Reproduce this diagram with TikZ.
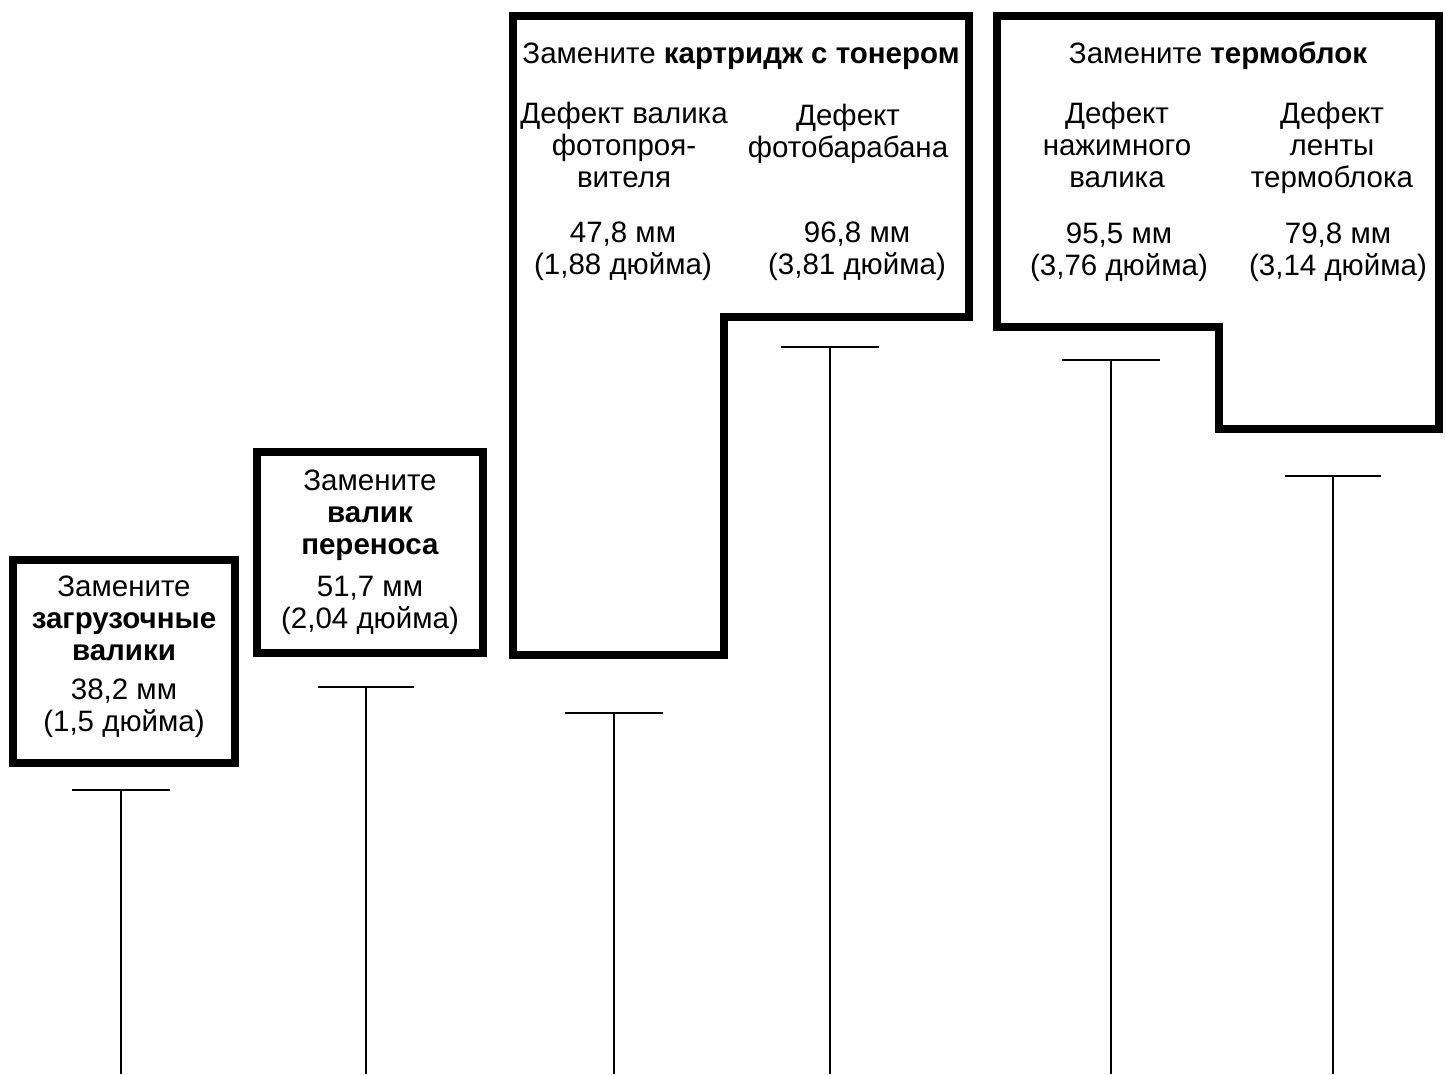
\documentclass[tikz,border=0pt]{standalone}
\usepackage{fontspec}
\setmainfont{Liberation Sans}
\usetikzlibrary{positioning}

\begin{document}
\begin{tikzpicture}[
    x=1pt, y=-1pt,
    every node/.style={font=\fontsize{29.5}{32}\selectfont, inner sep=0pt},
    repbox/.style={rectangle, draw=black, line width=8.5pt, align=center},
    outline/.style={draw=black, line width=8.5pt, line join=miter},
    txt/.style={align=center, anchor=base},
    tline/.style={draw=black, line width=2pt}
]
\useasboundingbox (0,0) rectangle (1445,1074);

% single boxes
\node[repbox, minimum width=222, minimum height=203] (rollers) at (124,661.5) {};
\node[txt] (rollersTxt) at (124,731)
    {Замените\\ \textbf{загрузочные}\\ \textbf{валики}\\[7pt] 38,2 мм\\ (1,5 дюйма)};
\node[repbox, minimum width=226, minimum height=201] (transfer) at (370,552.5) {};
\node[txt] (transferTxt) at (370,628)
    {Замените\\ \textbf{валик}\\ \textbf{переноса}\\[10pt] 51,7 мм\\ (2,04 дюйма)};

% toner cartridge
\draw[outline] (513,16) -- (969,16) -- (969,317) -- (724,317) -- (724,655) -- (513,655) -- cycle;
\node[txt] (cartTitle) at (741,63) {Замените \textbf{картридж с тонером}};
\node[txt] (devDefect) at (624,187) {Дефект валика\\фотопроя-\\вителя};
\node[txt] (devSize) at (623,274) {47,8 мм\\(1,88 дюйма)};
\node[txt] (drumDefect) at (848,157) {Дефект\\фотобарабана};
\node[txt] (drumSize) at (857,274) {96,8 мм\\(3,81 дюйма)};

% fuser
\draw[outline] (997,16) -- (1439,16) -- (1439,429) -- (1219,429) -- (1219,327) -- (997,327) -- cycle;
\node[txt] (fuserTitle) at (1218,63) {Замените \textbf{термоблок}};
\node[txt] (pressDefect) at (1117,187) {Дефект\\нажимного\\валика};
\node[txt] (pressSize) at (1119,275) {95,5 мм\\(3,76 дюйма)};
\node[txt] (beltDefect) at (1332,187) {Дефект\\ленты\\термоблока};
\node[txt] (beltSize) at (1338,275) {79,8 мм\\(3,14 дюйма)};

% rulers
\coordinate (t1) at (121,790);  \coordinate (b1) at (121,1074);
\coordinate (t2) at (366,687);  \coordinate (b2) at (366,1074);
\coordinate (t3) at (614,713);  \coordinate (b3) at (614,1074);
\coordinate (t4) at (830,347);  \coordinate (b4) at (830,1074);
\coordinate (t5) at (1111,360); \coordinate (b5) at (1111,1074);
\coordinate (t6) at (1333,476); \coordinate (b6) at (1333,1074);

\draw[tline] ([xshift=-49pt]t1) -- ([xshift=49pt]t1);
\draw[tline] (t1) -- (b1);
\draw[tline] ([xshift=-48pt]t2) -- ([xshift=48pt]t2);
\draw[tline] (t2) -- (b2);
\draw[tline] ([xshift=-49pt]t3) -- ([xshift=49pt]t3);
\draw[tline] (t3) -- (b3);
\draw[tline] ([xshift=-49pt]t4) -- ([xshift=49pt]t4);
\draw[tline] (t4) -- (b4);
\draw[tline] ([xshift=-49pt]t5) -- ([xshift=49pt]t5);
\draw[tline] (t5) -- (b5);
\draw[tline] ([xshift=-48pt]t6) -- ([xshift=48pt]t6);
\draw[tline] (t6) -- (b6);
\end{tikzpicture}
\end{document}
